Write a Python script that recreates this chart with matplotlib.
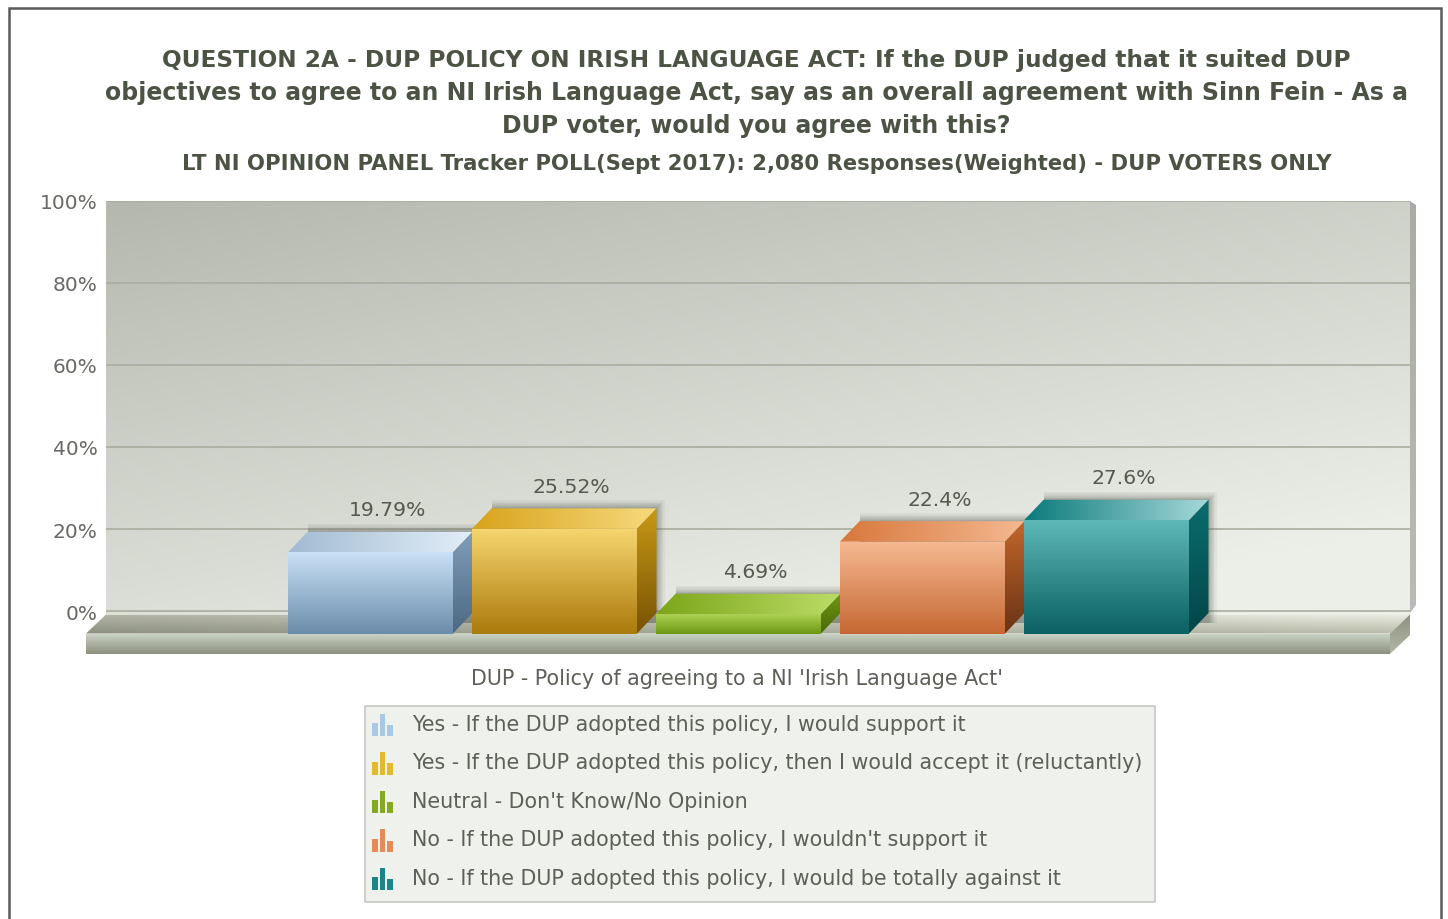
import numpy as np
import matplotlib
matplotlib.use('Agg')
import matplotlib.pyplot as plt
from matplotlib.colors import to_rgb
from matplotlib.legend_handler import HandlerBase
from matplotlib.patches import Polygon, Rectangle

plt.rcParams['font.family'] = ['DejaVu Sans']

# values
categories = ['Yes - If the DUP adopted this policy, I would support it',
              'Yes - If the DUP adopted this policy, then I would accept it (reluctantly)',
              "Neutral - Don't Know/No Opinion",
              "No - If the DUP adopted this policy, I wouldn't support it",
              'No - If the DUP adopted this policy, I would be totally against it']
values = [19.79, 25.52, 4.69, 22.4, 27.6]
value_labels = ['19.79%', '25.52%', '4.69%', '22.4%', '27.6%']
y_ticks = [0, 20, 40, 60, 80, 100]

title_lines = ['QUESTION 2A - DUP POLICY ON IRISH LANGUAGE ACT: If the DUP judged that it suited DUP',
               'objectives to agree to an NI Irish Language Act, say as an overall agreement with Sinn Fein - As a',
               'DUP voter, would you agree with this?']
subtitle = 'LT NI OPINION PANEL Tracker POLL(Sept 2017): 2,080 Responses(Weighted) - DUP VOTERS ONLY'
x_title = "DUP - Policy of agreeing to a NI 'Irish Language Act'"

# colours: front top/bottom, top face left/right, side top/bottom
front_cols = [('#c8e0f6', '#6c8dab'), ('#f6d56e', '#ab7a0c'), ('#aed155', '#6c9810'),
              ('#f5b890', '#c66834'), ('#5fb8b8', '#0a6062')]
top_cols = [('#a2bbd2', '#e2eef8'), ('#d8a31c', '#f6da7c'), ('#7ca61a', '#bbdc66'),
            ('#d8783c', '#f4b890'), ('#0c7a7c', '#a4d8d8')]
side_cols = [('#809db9', '#4c6983'), ('#c89816', '#785304'), ('#6e9412', '#4a6a08'),
             ('#c4662c', '#693314'), ('#0a6c6d', '#034648')]
icon_cols = ['#a9c8e4', '#e3b92e', '#86a922', '#e58a58', '#1c8589']

W, H = 1448, 920
PX_PER_PCT = 4.1
PX_PER_CAT = 184.0
X0_PX = 370.5
BASE_PX = 634.5

fig = plt.figure(figsize=(W / 100, H / 100), dpi=100, facecolor='white')


def fx(px):
    return px / W


def fy(py):
    return 1 - py / H


# back wall, a real axis with its own ticks and grid
wall = fig.add_axes([fx(106), fy(616), fx(1410) - fx(106), fy(202) - fy(616)])
wall.set_xlim(0, 1)
y_low = -4 / PX_PER_PCT
xx, yy = np.meshgrid(np.linspace(0, 1, 200), np.linspace(1, 0, 120))
t = np.clip(0.45 * xx + 0.7 * (1 - yy), 0, 1)[..., None] ** 0.95
wall_img = (1 - t) * np.array(to_rgb('#b3b7ae')) + t * np.array(to_rgb('#ebefe7'))
wall.imshow(wall_img, extent=(0, 1, y_low, 100), aspect='auto', zorder=0, interpolation='bilinear')
wall.set_ylim(y_low, 100)
wall.set_yticks(y_ticks)
wall.set_yticklabels([f'{v}%' for v in y_ticks], fontsize=14.5, color='#666a62')
wall.tick_params(axis='y', length=0, pad=6)
wall.set_xticks([])
wall.grid(axis='y', color='#a9ad9f', lw=1.2, zorder=1)
wall.set_axisbelow(False)
for s in wall.spines.values():
    s.set_visible(False)

# overlay in the same scale: x = category index, y = percent on the front plane
ax = fig.add_axes([0, 0, 1, 1], facecolor='none')
ax.set_xlim((0 - X0_PX) / PX_PER_CAT, (W - X0_PX) / PX_PER_CAT)
ax.set_ylim((BASE_PX - H) / PX_PER_PCT, BASE_PX / PX_PER_PCT)
ax.axis('off')
ax.autoscale(False)
DX = 19.5 / PX_PER_CAT
DY = 20.5 / PX_PER_PCT
PXX = 1 / PX_PER_CAT
PXY = 1 / PX_PER_PCT


def clip_image(img, verts, z):
    verts = np.array(verts)
    x0, y0 = verts.min(axis=0)
    x1, y1 = verts.max(axis=0)
    im = ax.imshow(img, extent=(x0, x1, y0, y1), origin='upper', aspect='auto',
                   zorder=z, interpolation='bilinear')
    p = Polygon(verts, fc='none', ec='none', transform=ax.transData, zorder=z)
    ax.add_patch(p)
    im.set_clip_path(p)


def shade(verts, c0, c1, vertical=True, z=3):
    # gradient clipped to a polygon, c0 top or left, c1 bottom or right
    s = np.linspace(0, 1, 64)
    a, b = np.array(to_rgb(c0)), np.array(to_rgb(c1))
    g = a + (b - a) * s[:, None]
    clip_image(g[:, None, :] if vertical else g[None, :, :], verts, z)


# wall right edge
rx = (1410 - X0_PX) * PXX
rx2 = (1416 - X0_PX) * PXX
shade([(rx, (BASE_PX - 202) * PXY), (rx2, (BASE_PX - 206) * PXY), (rx2, (BASE_PX - 606) * PXY), (rx, (BASE_PX - 614) * PXY)],
      '#a9aca4', '#b9bcb4', z=2)

# floor, top surface goes from dark on the left to light on the right
fl = (86 - X0_PX) * PXX
fr = (1390 - X0_PX) * PXX
fb = -20.5 * PXY
fdx = 20 * PXX
fdy = 19 * PXY
u, w = np.meshgrid(np.linspace(0, 1, 120), np.linspace(0, 1, 32))
floor_img = (((1 - u) * (1 - w))[..., None] * np.array(to_rgb('#b0b3a4'))
             + (u * (1 - w))[..., None] * np.array(to_rgb('#e8eae0'))
             + ((1 - u) * w)[..., None] * np.array(to_rgb('#8c9080'))
             + (u * w)[..., None] * np.array(to_rgb('#b8bba8')))
clip_image(floor_img, [(fl, 0), (fr, 0), (fr + fdx, fdy), (fl + fdx, fdy)], 2)
shade([(fl, 0), (fr, 0), (fr, fb), (fl, fb)], '#ccd5c8', '#8c907e', z=2)
shade([(fr, 0), (fr + fdx, fdy), (fr + fdx, fdy + fb), (fr, fb)], '#8d9180', '#b4b8a6', z=2)

BAR_W = 165 / PX_PER_CAT
for i, v in enumerate(values):
    xl = i - BAR_W / 2
    xr = i + BAR_W / 2
    # soft halo behind the bar, mostly above and to the right
    for k in [0.5, 1, 1.5, 2, 3, 4, 5, 6.5, 8]:
        ax.add_patch(Rectangle((xl + DX, DY * 0.5), BAR_W + k * PXX,
                               v + DY * 0.5 + k * PXY, fc='#4a4c46', ec='none', alpha=0.06, zorder=2.5))
    shade([(xl, v), (xr, v), (xr + DX, v + DY), (xl + DX, v + DY)], top_cols[i][0], top_cols[i][1], vertical=False)
    shade([(xr, 0), (xr, v), (xr + DX, v + DY), (xr + DX, DY)], side_cols[i][0], side_cols[i][1])
    shade([(xl, 0), (xr, 0), (xr, v), (xl, v)], front_cols[i][0], front_cols[i][1], z=3.2)
    ax.text(i + DX * 0.87, v + DY + 22 * PXY, value_labels[i], ha='center', va='center',
            fontsize=14.7, color='#55594f', zorder=5)

# titles
for line, py, size in zip(title_lines, [60, 93, 126], [16.73, 17, 17]):
    fig.text(fx(756), fy(py), line, ha='center', va='center', fontsize=size, fontweight='bold', color='#4b5344')
fig.text(fx(756.5), fy(164.5), subtitle, ha='center', va='center', fontsize=15.25, fontweight='bold', color='#4b5344')
fig.text(fx(737), fy(679), x_title, ha='center', va='center', fontsize=14.9, color='#5c6056')


# small three-bar icon for legend
class BarsIcon(HandlerBase):
    def create_artists(self, legend, orig_handle, xdescent, ydescent, width, height, fontsize, trans):
        c = orig_handle.get_facecolor()
        out = []
        for j, h in enumerate([0.7, 1.2, 0.6]):
            out.append(Rectangle((xdescent + j * width * 0.36, -ydescent - 3), width * 0.27, height * h,
                                 fc=c, ec='none', transform=trans))
        return out


# legend box is drawn apart so its size can match, the legend itself has no frame
ax.add_patch(Rectangle((fx(365.5), fy(903)), fx(1155) - fx(365.5), fy(707) - fy(903), transform=fig.transFigure,
                       fc='#eff2ec', ec='#c5c9c1', lw=1.2, zorder=5.5))
handles = [Rectangle((0, 0), 1, 1, fc=c) for c in icon_cols]
leg = ax.legend(handles, categories, handler_map={Rectangle: BarsIcon()},
                loc='upper left', bbox_to_anchor=(fx(364), fy(706)), bbox_transform=fig.transFigure,
                fontsize=14.9, labelcolor='#5c6056', frameon=False, borderaxespad=0, borderpad=0.4,
                labelspacing=0.88, handlelength=1.0, handleheight=1.0, handletextpad=0.93)
leg.set_zorder(6)

# frame of the screenshot, the bottom is cut off
ax.add_patch(Rectangle((fx(9), fy(1000)), fx(1441) - fx(9), fy(9) - fy(1000), transform=fig.transFigure,
                       fc='none', ec='#5a5a5a', lw=1.8, clip_on=False, zorder=10))

fig.savefig('out.png', dpi=100)
